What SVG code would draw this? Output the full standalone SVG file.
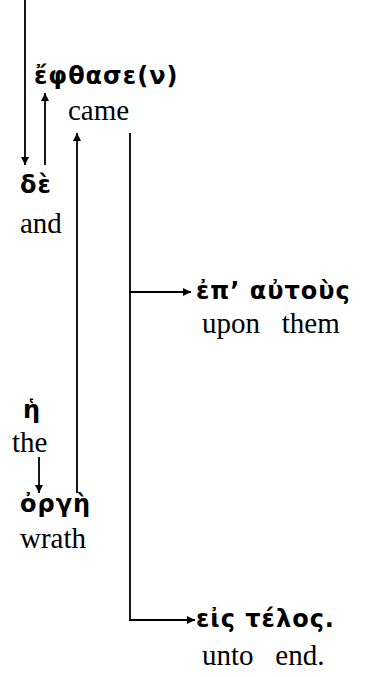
<svg xmlns="http://www.w3.org/2000/svg" width="370" height="677" viewBox="0 0 370 677">
<style>
.gk{font-family:"DejaVu Sans","Noto Sans",sans-serif;font-weight:bold;font-size:24px;letter-spacing:1px;fill:#000}
.en{font-family:"Liberation Serif","Times New Roman",serif;font-size:29px;fill:#000}
.ln{stroke:#000;stroke-width:1.8;fill:none}
</style>
<defs>
<marker id="ah" viewBox="0 0 10 10" refX="10" refY="5" markerWidth="9" markerHeight="8" orient="auto" markerUnits="userSpaceOnUse">
<path d="M0,0 L10,5 L0,10 z" fill="#000"/>
</marker>
</defs>
<rect width="370" height="677" fill="#fff"/>
<g id="connectors">
<path class="ln" d="M25,0 V165" marker-end="url(#ah)"/>
<path class="ln" d="M45,165 V93" marker-end="url(#ah)"/>
<path class="ln" d="M77,493 V133" marker-end="url(#ah)"/>
<path class="ln" d="M130,133 V620"/>
<path class="ln" d="M129,292 H191" marker-end="url(#ah)"/>
<path class="ln" d="M129,620 H195" marker-end="url(#ah)"/>
<path class="ln" d="M39,457 V493" marker-end="url(#ah)"/>
</g>
<g id="n-ephthase"><text class="gk" x="34" y="84">ἔφθασε(ν)</text><text class="en" x="68" y="120">came</text></g>
<g id="n-de"><text class="gk" x="20" y="193">δὲ</text><text class="en" x="20" y="233">and</text></g>
<g id="n-ep"><text class="gk" x="196" y="299">ἐπ’ αὐτοὺς</text><text class="en" x="202" y="333">upon&#160;&#160;&#160;them</text></g>
<g id="n-he"><text class="gk" x="23" y="418">ἡ</text><text class="en" x="12" y="452">the</text></g>
<g id="n-orge"><text class="gk" x="20" y="512">ὀργὴ</text><text class="en" x="20" y="548">wrath</text></g>
<g id="n-eis"><text class="gk" x="196" y="627">εἰς τέλος.</text><text class="en" x="202" y="665">unto&#160;&#160;&#160;end.</text></g>
</svg>
